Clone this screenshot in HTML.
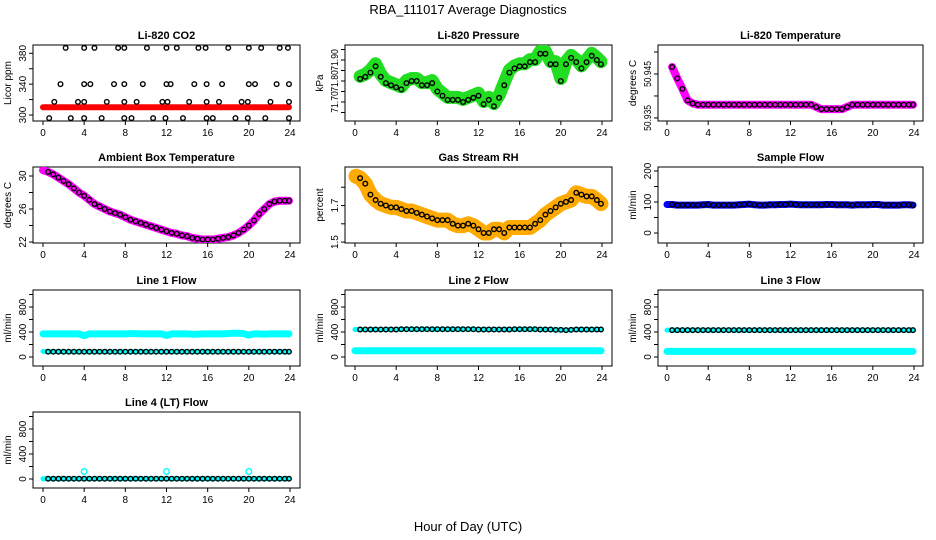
<!DOCTYPE html>
<html><head><meta charset="utf-8"><style>
body{margin:0;background:#fff;}
svg{display:block;font-family:"Liberation Sans",sans-serif;}
</style></head><body>
<svg id="c" width="936" height="540" viewBox="0 0 936 540">
<text x="468" y="14" text-anchor="middle" font-size="13">RBA_111017  Average Diagnostics</text>
<text x="468" y="531" text-anchor="middle" font-size="13">Hour of Day (UTC)</text>
</svg>
<script>
// ---- data ----
const hours = [0.5,1,1.5,2,2.5,3,3.5,4,4.5,5,5.5,6,6.5,7,7.5,8,8.5,9,9.5,10,10.5,11,11.5,12,12.5,13,13.5,14,14.5,15,15.5,16,16.5,17,17.5,18,18.5,19,19.5,20,20.5,21,21.5,22,22.5,23,23.5,23.9];
const co2Hours = [2.2,4,5,7.3,7.9,10.1,12,13,15.1,15.8,18,20,21.2,23,23.8, 1.7,4,4.6,6.9,7.9,9.7,12,12.4,14.7,15.9,17.4,20,20.6,22.7,23.9, 1.1,3.4,4,6.2,7.9,9.1,11.6,12.1,14.2,15.9,17.1,19.3,19.9,22.1,23.9, 0.6,2.7,4,5.7,7.9,8.6,10.7,11.9,13.6,15.9,16.5,18.7,19.9,21.6,23.9];
const co2Vals = [387,387,387,387,387,387,387,387,387,387,387,387,387,387,387, 340,340,340,340,340,340,340,340,340,340,340,340,340,340,340, 317,317,317,317,317,317,317,317,317,317,317,317,317,317,317, 296,296,296,296,296,296,296,296,296,296,296,296,296,296,296];
const co2Red = [310,310,310,310,310,310,310,310,310,310,310,310,310,310,310,310,310,310,310,310,310,310,310,310,310,310,310,310,310,310,310,310,310,310,310,310,310,310,310,310,310,310,310,310,310,310,310,310];
const pressure = [71.81,71.82,71.84,71.87,71.82,71.79,71.78,71.77,71.76,71.79,71.80,71.80,71.78,71.78,71.79,71.75,71.73,71.71,71.71,71.71,71.70,71.71,71.72,71.73,71.69,71.71,71.68,71.72,71.78,71.84,71.86,71.87,71.87,71.89,71.89,71.93,71.93,71.88,71.88,71.80,71.88,71.91,71.89,71.86,71.89,71.92,71.90,71.88];
const temperature = [50.9466,50.944,50.9416,50.939,50.9383,50.938,50.938,50.938,50.938,50.938,50.938,50.938,50.938,50.938,50.938,50.938,50.938,50.938,50.938,50.938,50.938,50.938,50.938,50.938,50.938,50.938,50.938,50.938,50.9375,50.937,50.937,50.937,50.937,50.937,50.9375,50.938,50.938,50.938,50.938,50.938,50.938,50.938,50.938,50.938,50.938,50.938,50.938,50.938];
const ambient = [30.5,30.2,29.8,29.4,29.0,28.5,28.0,27.6,27.1,26.6,26.3,26.0,25.7,25.5,25.3,25.0,24.7,24.5,24.3,24.1,23.9,23.7,23.5,23.3,23.1,23.0,22.8,22.7,22.5,22.4,22.3,22.3,22.3,22.4,22.5,22.6,22.8,23.1,23.5,24.0,24.6,25.4,26.0,26.6,26.9,27.0,27.0,27.0];
const rh = [1.85,1.82,1.76,1.73,1.71,1.70,1.69,1.69,1.68,1.67,1.67,1.66,1.65,1.64,1.63,1.62,1.62,1.62,1.60,1.59,1.59,1.60,1.59,1.57,1.55,1.55,1.57,1.57,1.55,1.58,1.58,1.58,1.58,1.58,1.60,1.62,1.65,1.67,1.69,1.71,1.72,1.73,1.77,1.76,1.75,1.75,1.73,1.71];
const sampleFlow = [92,90,90,90,90,90,91,92,90,90,90,90,90,91,92,93,91,90,90,91,91,92,92,93,92,91,91,91,91,91,92,92,91,91,91,90,91,91,91,92,92,90,90,90,90,91,91,90];
const line1Hi = [370,370,370,370,370,370,370,340,370,370,370,370,370,370,370,370,375,375,370,370,370,370,370,345,370,370,370,370,365,365,370,370,370,370,370,375,380,380,375,350,370,370,365,370,370,370,370,370];
const line1Lo = [85,85,85,85,85,85,85,85,85,85,85,85,85,85,85,85,85,85,85,85,85,85,85,85,85,85,85,85,85,85,85,85,85,85,85,85,85,85,85,85,85,85,85,85,85,85,85,85];
const line2Hi = [440,440,440,440,440,440,440,440,445,445,445,445,445,445,445,445,445,445,445,445,445,445,445,440,440,440,440,440,440,440,445,445,445,445,445,440,440,440,435,435,430,435,440,440,440,440,440,440];
const line2Lo = [100,100,100,100,100,100,100,100,100,100,100,100,100,100,100,100,100,100,100,100,100,100,100,100,100,100,100,100,100,100,100,100,100,100,100,100,100,100,100,100,100,100,100,100,100,100,100,100];
const line3Hi = [430,430,430,430,430,430,430,430,430,430,430,430,430,430,430,430,430,430,430,430,430,430,430,430,430,430,430,430,430,430,430,430,430,430,430,430,430,430,430,430,430,430,430,430,430,430,430,430];
const line3Lo = [90,90,90,90,90,90,90,90,90,90,90,90,90,90,90,90,90,90,90,90,90,90,90,90,90,90,90,90,90,90,90,90,90,90,90,90,90,90,90,90,90,90,90,90,90,90,90,90];
const line4 = [5,5,5,5,5,5,5,5,5,5,5,5,5,5,5,5,5,5,5,5,5,5,5,5,5,5,5,5,5,5,5,5,5,5,5,5,5,5,5,5,5,5,5,5,5,5,5,5];
const line4OutHours = [4,12,20];
const line4OutVals = [120,120,120];

const xTicks = [0,4,8,12,16,20,24];

// ---- layout ----
const cols = [[33,300,43,290],[345,612,355,602],[658,923,667,914]];
const rows = [45,167,290,412];
const BH = 76;
const svg = document.getElementById('c');
const NS = 'http://www.w3.org/2000/svg';
function mk(tag, attrs, parent){const e=document.createElementNS(NS,tag);for(const k in attrs)e.setAttribute(k,attrs[k]);(parent||svg).appendChild(e);return e;}

function panel(name, title, ytitle, col, row, ymin, ymax, ticks, labels, draw){
  const [bl,br,x0,x1] = cols[col]; const bt = rows[row], bb = bt+BH;
  const g = mk('g',{});
  
  
  const X = h => x0 + (h/24)*(x1-x0);
  const Y = v => bb - (v-ymin)/(ymax-ymin)*BH;
  const box = mk('rect',{x:bl,y:bt,width:br-bl,height:BH,fill:'none',stroke:'#000','stroke-width':1},g);
  
  
  const t = mk('text',{x:(bl+br)/2,y:bt-6,'text-anchor':'middle','font-size':11,'font-weight':'bold'},g);
  t.textContent = title;
  
  
  const yt = mk('text',{x:0,y:0,'text-anchor':'middle','font-size':10,transform:`translate(${bl-22},${(bt+bb)/2}) rotate(-90)`},g);
  yt.textContent = ytitle;
  
  
  const xa = mk('g',{},g);
  
  
  mk('line',{x1:X(0),x2:X(24),y1:bb,y2:bb,stroke:'#000'},xa);
  xTicks.forEach(v=>{
    mk('line',{x1:X(v),x2:X(v),y1:bb,y2:bb+4,stroke:'#000'},xa);
    const l = mk('text',{x:X(v),y:bb+15,'text-anchor':'middle','font-size':10},xa);
    l.textContent = v;
    
    
  });
  const ya = mk('g',{},g);
  
  
  ticks.forEach(v=>{
    const y = Y(v); if(y<bt-0.5||y>bb+0.5) return;
    mk('line',{x1:bl,x2:bl-4,y1:y,y2:y,stroke:'#000'},ya);
  });
  labels.forEach(v=>{
    const s = String(v);
    const attrs = {x:0,y:0,'text-anchor':'middle','font-size':10,transform:`translate(${bl-7},${Y(+v)}) rotate(-90)`};
    if(s.length>4){attrs['textLength']=s.length*4.3;attrs['lengthAdjust']='spacingAndGlyphs';}
    const l = mk('text',attrs,ya);
    l.textContent = s;
    
    
  });
  const clip = 'clip'+name;
  const cp = mk('clipPath',{id:clip},g); mk('rect',{x:bl,y:bt,width:br-bl,height:BH},cp);
  const dg = mk('g',{'clip-path':`url(#${clip})`},g);
  
  
  draw({X,Y,g:dg});
}
function band(p, hs, vals, color, w, nm){
  const pts = hs.map((h,i)=>p.X(h)+','+p.Y(vals[i])).join(' ');
  const pl = mk('polyline',{points:pts,fill:'none',stroke:color,'stroke-width':w,'stroke-linejoin':'round','stroke-linecap':'round'},p.g);
  
  
}
function dots(p, hs, vals, color, r, nm, fill){
  hs.forEach((h,i)=>{
    const c = mk('circle',{cx:p.X(h),cy:p.Y(vals[i]),r:r,fill:fill||'none',stroke:color,'stroke-width':1.4},p.g);
    
    
  });
}

panel('co2','Li-820 CO2','Licor ppm',0,0,292.2,390.8,[300,320,340,360,380],[300,340,380],p=>{
  band(p,[0].concat(hours),[310].concat(co2Red),'#ff0000',6,'co2-red-band');
  dots(p,co2Hours,co2Vals,'#000',2.3,'co2-point');
});
panel('pressure','Li-820 Pressure','kPa',1,0,71.6095,71.9714,[71.65,71.70,71.75,71.80,71.85,71.90,71.95],['71.70','71.80','71.90'],p=>{
  band(p,hours,pressure.map(v=>v+0.012),'#22dd22',13,'pressure-green-band');
  dots(p,hours,pressure,'#000',2.3,'pressure-point');
});
panel('temperature','Li-820 Temperature','degrees C',2,0,50.9343,50.9516,[50.935,50.940,50.945,50.950],['50.935','50.945'],p=>{
  band(p,hours,temperature,'#ff00ff',8,'temperature-magenta-band');
  dots(p,hours,temperature,'#000',2.3,'temperature-point');
});
panel('ambient','Ambient Box Temperature','degrees C',0,1,21.88,31.09,[22,24,26,28,30],[22,26,30],p=>{
  band(p,[0].concat(hours),[30.7].concat(ambient),'#ff00ff',8,'ambient-magenta-band');
  dots(p,hours,ambient,'#000',2.3,'ambient-point');
});
panel('rh','Gas Stream RH','percent',1,1,1.495,1.9108,[1.5,1.6,1.7,1.8],['1.5','1.7'],p=>{
  band(p,[0.1].concat(hours),[1.86].concat(rh),'#ffaa00',15,'rh-orange-band');
  dots(p,hours,rh,'#000',2.3,'rh-point');
});
panel('sample-flow','Sample Flow','ml/min',2,1,-32.3,212.9,[0,50,100,150,200],[0,100,200],p=>{
  band(p,[0].concat(hours),[92].concat(sampleFlow),'#0000ff',7,'sample-flow-blue-band');
  dots(p,hours,sampleFlow,'#000',2.3,'sample-flow-point');
});
const lt=[0,200,400,600,800,1000], ll=[0,400,800];
panel('line1','Line 1 Flow','ml/min',0,2,-144,1072,lt,ll,p=>{
  band(p,[0].concat(hours),[370].concat(line1Hi),'#00ffff',7,'line1-cyan-high-band');
  band(p,[0].concat(hours),[90].concat(line1Lo),'#00ffff',5,'line1-cyan-low-band');
  dots(p,hours,line1Lo,'#000',2.3,'line1-point');
});
panel('line2','Line 2 Flow','ml/min',1,2,-144,1072,lt,ll,p=>{
  band(p,[0].concat(hours),[440].concat(line2Hi),'#00ffff',5,'line2-cyan-high-band');
  band(p,[0].concat(hours),[100].concat(line2Lo),'#00ffff',7,'line2-cyan-low-band');
  dots(p,hours,line2Hi,'#000',2.3,'line2-point');
});
panel('line3','Line 3 Flow','ml/min',2,2,-144,1072,lt,ll,p=>{
  band(p,[0].concat(hours),[430].concat(line3Hi),'#00ffff',5,'line3-cyan-high-band');
  band(p,[0].concat(hours),[90].concat(line3Lo),'#00ffff',7,'line3-cyan-low-band');
  dots(p,hours,line3Hi,'#000',2.3,'line3-point');
});
panel('line4','Line 4 (LT) Flow','ml/min',0,3,-144,1072,lt,ll,p=>{
  band(p,[0].concat(hours),[5].concat(line4),'#00ffff',5,'line4-cyan-band');
  dots(p,line4OutHours,line4OutVals,'#00ffff',2.8,'line4-outlier');
  dots(p,hours,line4,'#000',2.3,'line4-point');
});
</script>
</body></html>
